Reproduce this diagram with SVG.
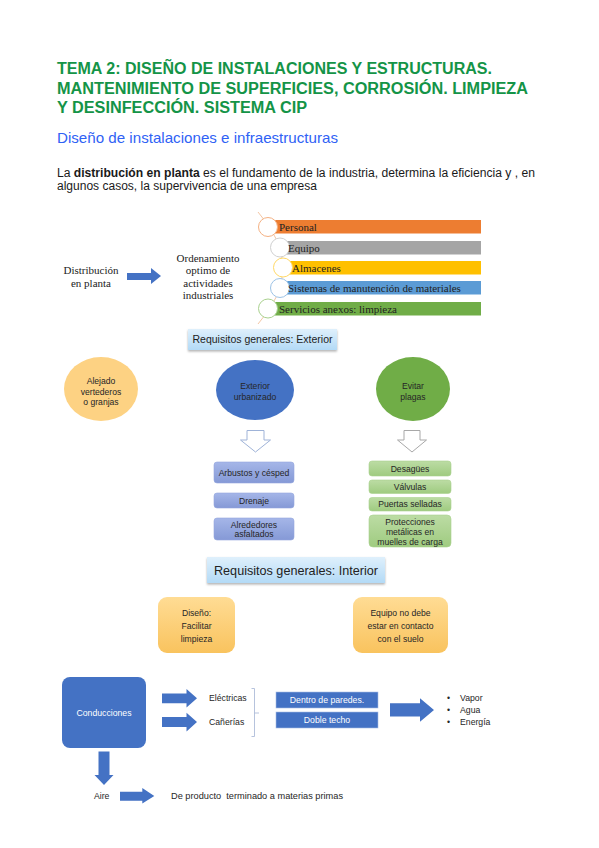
<svg xmlns="http://www.w3.org/2000/svg" width="599" height="848" viewBox="0 0 599 848">
<style>
.ttl{font-family:"Liberation Sans",Arial,sans-serif;font-weight:bold;font-size:16px;fill:#149447}
.sub{font-family:"Liberation Sans",Arial,sans-serif;font-size:14.5px;fill:#2f62f5}
.par{font-family:"Liberation Sans",Arial,sans-serif;font-size:12px;fill:#1a1a1a}
.ser{font-family:"Liberation Serif","Times New Roman",serif;font-size:11px;fill:#222}
.sm{font-family:"Liberation Sans",Arial,sans-serif;font-size:8.6px;fill:#262626;text-anchor:middle}
.cal{font-family:"Liberation Sans",Arial,sans-serif;font-size:8.7px;fill:#262626}
.wh{fill:#ffffff}
.arr{fill:#4472c4}
</style>
<defs>
<linearGradient id="gReq" x1="0" y1="0" x2="0" y2="1"><stop offset="0" stop-color="#dff0fc"/><stop offset="1" stop-color="#b3daf6"/></linearGradient>
<linearGradient id="gLav" x1="0" y1="0" x2="0" y2="1"><stop offset="0" stop-color="#a5b6e8"/><stop offset="1" stop-color="#8599d6"/></linearGradient>
<linearGradient id="gGrn" x1="0" y1="0" x2="0" y2="1"><stop offset="0" stop-color="#bcdca4"/><stop offset="1" stop-color="#9fcb80"/></linearGradient>
<linearGradient id="gYel" x1="0" y1="0" x2="0" y2="1"><stop offset="0" stop-color="#ffdc94"/><stop offset="1" stop-color="#f9c35e"/></linearGradient>
<filter id="sh" x="-10%" y="-20%" width="120%" height="160%"><feDropShadow dx="0" dy="1.5" stdDeviation="1.2" flood-color="#000" flood-opacity="0.3"/></filter>
</defs>

<g id="title">
<text class="ttl" x="57" y="74" textLength="435" lengthAdjust="spacingAndGlyphs">TEMA 2: DISEÑO DE INSTALACIONES Y ESTRUCTURAS.</text>
<text class="ttl" x="57" y="93.5" textLength="471" lengthAdjust="spacingAndGlyphs">MANTENIMIENTO DE SUPERFICIES, CORROSIÓN. LIMPIEZA</text>
<text class="ttl" x="57" y="113" textLength="250" lengthAdjust="spacingAndGlyphs">Y DESINFECCIÓN. SISTEMA CIP</text>
</g>
<g id="subtitle">
<text class="sub" x="57" y="143" textLength="281" lengthAdjust="spacingAndGlyphs">Diseño de instalaciones e infraestructuras</text>
</g>
<g id="paragraph">
<text class="par" x="57" y="177" textLength="478" lengthAdjust="spacingAndGlyphs">La <tspan font-weight="bold">distribución en planta</tspan> es el fundamento de la industria, determina la eficiencia y , en</text>
<text class="par" x="57" y="190" textLength="260" lengthAdjust="spacingAndGlyphs">algunos casos, la supervivencia de una empresa</text>
</g>

<g id="distribucion">
<text class="ser" x="91" y="274" text-anchor="middle">Distribución</text>
<text class="ser" x="91" y="287" text-anchor="middle">en planta</text>
</g>
<g id="ordenamiento">
<text class="ser" x="208" y="261.5" text-anchor="middle">Ordenamiento</text>
<text class="ser" x="208" y="274" text-anchor="middle">optimo de</text>
<text class="ser" x="208" y="286.5" text-anchor="middle">actividades</text>
<text class="ser" x="208" y="299" text-anchor="middle">industriales</text>
</g>
<g id="lista">
<path d="M258,212 Q308,268 258,324" fill="none" stroke="#f4c6a4" stroke-width="1"/>
<rect x="270" y="220" width="211" height="13.5" fill="#ed7d31"/>
<rect x="282" y="241" width="199" height="13.5" fill="#a5a5a5"/>
<rect x="285" y="261" width="196" height="13.5" fill="#ffc000"/>
<rect x="282" y="281" width="199" height="13.5" fill="#5b9bd5"/>
<rect x="270" y="302" width="211" height="13.5" fill="#70ad47"/>
<circle cx="268" cy="227" r="9.5" fill="#fff" stroke="#f4b183"/>
<circle cx="280" cy="247.5" r="9.5" fill="#fff" stroke="#d0d0d0"/>
<circle cx="283" cy="267.5" r="9.5" fill="#fff" stroke="#ffd966"/>
<circle cx="280" cy="288" r="9.5" fill="#fff" stroke="#9dc3e6"/>
<circle cx="268" cy="308.5" r="9.5" fill="#fff" stroke="#a9d18e"/>
<text class="ser" x="279" y="231">Personal</text>
<text class="ser" x="288" y="251.5">Equipo</text>
<text class="ser" x="292" y="271.5">Almacenes</text>
<text class="ser" x="288" y="292">Sistemas de manutención de materiales</text>
<text class="ser" x="279" y="312.5">Servicios anexos: limpieza</text>
</g>

<g id="req-exterior">
<rect x="188" y="329" width="149" height="21" fill="url(#gReq)" filter="url(#sh)"/>
<text x="262.5" y="343" text-anchor="middle" font-family="'Liberation Sans',Arial,sans-serif" font-size="10.5" fill="#222">Requisitos generales: Exterior</text>
</g>
<g id="alejado">
<ellipse cx="101" cy="389" rx="37" ry="32" fill="#fdd283"/>
<text class="sm" x="101" y="384">Alejado</text>
<text class="sm" x="101" y="394.5">vertederos</text>
<text class="sm" x="101" y="405">o granjas</text>
</g>
<g id="exterior">
<ellipse cx="255" cy="390" rx="39" ry="30" fill="#4472c4"/>
<text class="sm" x="255" y="389">Exterior</text>
<text class="sm" x="255" y="400">urbanizado</text>
</g>
<g id="evitar">
<ellipse cx="413" cy="389" rx="37" ry="32" fill="#70ad47"/>
<text class="sm" x="413" y="389">Evitar</text>
<text class="sm" x="413" y="400">plagas</text>
</g>

<g id="connectors">
<path d="M127,273 H151 V268 L161,276 L151,284 V280 H127 Z" class="arr"/>
<path d="M247,430.5 H264 V440 H270.5 L255.5,452 L240.5,440 H247 Z" fill="#fff" stroke="#9fb3d8" stroke-width="1"/>
<path d="M404,430.5 H420 V440 H426.5 L412,452 L397.5,440 H404 Z" fill="#fff" stroke="#a8a8a8" stroke-width="1"/>
<path d="M162,693.5 H186.5 V689 L197,698.3 L186.5,707.5 V703.3 H162 Z" class="arr"/>
<path d="M162,717 H186.5 V712.7 L197,722 L186.5,731.5 V727 H162 Z" class="arr"/>
<path d="M98.5,751.5 H109.5 V775 H113.5 L104,785 L94.5,775 H98.5 Z" class="arr"/>
<path d="M120,791.7 H142.3 V788 L154.3,796 L142.3,803.5 V800.7 H120 Z" class="arr"/>
<path d="M390,703.3 H420 V698.3 L434,710 L420,721.7 V716.5 H390 Z" class="arr"/>
<path d="M251.5,688.5 H254.5 V736.5 H251.5 M254.5,713 H259" fill="none" stroke="#aebcd9" stroke-width="0.9"/>
</g>

<g id="arbustos">
<rect x="214" y="462" width="80" height="21" rx="3" fill="url(#gLav)" stroke="#93a6dd" stroke-width="0.6"/>
<text class="sm" x="254" y="475.5" font-size="8.8">Arbustos y césped</text>
</g>
<g id="drenaje">
<rect x="214" y="493" width="80" height="15" rx="3" fill="url(#gLav)" stroke="#93a6dd" stroke-width="0.6"/>
<text class="sm" x="254" y="503.5" font-size="8.8">Drenaje</text>
</g>
<g id="alrededores">
<rect x="214" y="518" width="80" height="22" rx="3" fill="url(#gLav)" stroke="#93a6dd" stroke-width="0.6"/>
<text class="sm" x="254" y="527.5" font-size="8.8">Alrededores</text>
<text class="sm" x="254" y="537" font-size="8.8">asfaltados</text>
</g>
<g id="desagues">
<rect x="369" y="461" width="82" height="15" rx="3" fill="url(#gGrn)" stroke="#a9d18e" stroke-width="0.6"/>
<text class="sm" x="410" y="471.5">Desagües</text>
</g>
<g id="valvulas">
<rect x="369" y="480" width="82" height="13.5" rx="3" fill="url(#gGrn)" stroke="#a9d18e" stroke-width="0.6"/>
<text class="sm" x="410" y="489.8">Válvulas</text>
</g>
<g id="puertas">
<rect x="369" y="497.5" width="82" height="13.5" rx="3" fill="url(#gGrn)" stroke="#a9d18e" stroke-width="0.6"/>
<text class="sm" x="410" y="507.3">Puertas selladas</text>
</g>
<g id="protecciones">
<rect x="369" y="515" width="82" height="32" rx="4" fill="url(#gGrn)" stroke="#a9d18e" stroke-width="0.6"/>
<text class="sm" x="410" y="524.5">Protecciones</text>
<text class="sm" x="410" y="534.5">metálicas en</text>
<text class="sm" x="410" y="544.5">muelles de carga</text>
</g>

<g id="req-interior">
<rect x="207" y="557" width="178" height="26" fill="url(#gReq)" filter="url(#sh)"/>
<text x="296" y="575" text-anchor="middle" font-family="'Liberation Sans',Arial,sans-serif" font-size="13" fill="#222" textLength="164" lengthAdjust="spacingAndGlyphs">Requisitos generales: Interior</text>
</g>
<g id="diseno">
<rect x="158" y="597" width="77" height="56" rx="9" fill="url(#gYel)"/>
<text class="sm" x="196.5" y="616">Diseño:</text>
<text class="sm" x="196.5" y="629">Facilitar</text>
<text class="sm" x="196.5" y="642">limpieza</text>
</g>
<g id="equipo">
<rect x="353" y="597" width="95" height="56" rx="9" fill="url(#gYel)"/>
<text class="sm" x="400.5" y="616">Equipo no debe</text>
<text class="sm" x="400.5" y="629">estar en contacto</text>
<text class="sm" x="400.5" y="642">con el suelo</text>
</g>

<g id="conducciones">
<rect x="62" y="677" width="84" height="71" rx="8" fill="#4472c4"/>
<text class="cal wh" x="104" y="716" text-anchor="middle" font-size="9">Conducciones</text>
</g>
<g id="electricas"><text class="cal" x="209" y="701.3">Eléctricas</text></g>
<g id="canerias"><text class="cal" x="209" y="725">Cañerías</text></g>
<g id="dentro">
<rect x="276" y="692" width="102" height="16" fill="#4472c4" stroke="#a8bde3" stroke-width="0.6"/>
<text class="cal wh" x="327" y="703" text-anchor="middle" font-size="9">Dentro de paredes.</text>
</g>
<g id="doble">
<rect x="276" y="712" width="102" height="16" fill="#4472c4" stroke="#a8bde3" stroke-width="0.6"/>
<text class="cal wh" x="327" y="723" text-anchor="middle" font-size="9">Doble techo</text>
</g>
<g id="lista-bullets">
<text class="cal" x="447" y="701">•</text><text class="cal" x="460" y="701">Vapor</text>
<text class="cal" x="447" y="713">•</text><text class="cal" x="460" y="713">Agua</text>
<text class="cal" x="447" y="725">•</text><text class="cal" x="460" y="725">Energía</text>
</g>
<g id="aire"><text class="cal" x="94" y="799">Aire</text></g>
<g id="producto"><text class="cal" x="171" y="799" textLength="172" lengthAdjust="spacingAndGlyphs">De producto&#160; terminado a materias primas</text></g>
</svg>
